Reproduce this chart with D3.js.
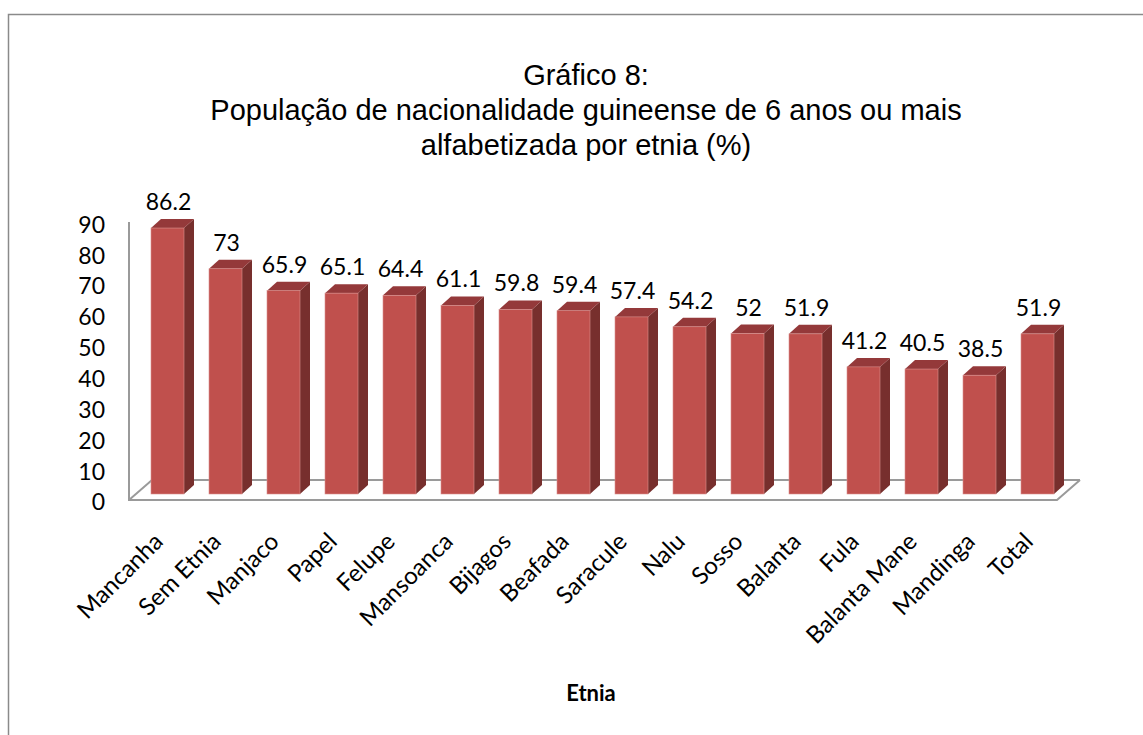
<!DOCTYPE html>
<html>
<head>
<meta charset="utf-8">
<script src="https://cdn.jsdelivr.net/npm/d3@7"></script>
<style>
  body { margin: 0; background: #fff; }
  svg { display: block; }
</style>
</head>
<body>
<div id="chart"></div>
<script>
const width = 1143;
const height = 735;

// data
const etnias = ["Mancanha", "Sem Etnia", "Manjaco", "Papel", "Felupe", "Mansoanca", "Bijagos",
  "Beafada", "Saracule", "Nalu", "Sosso", "Balanta", "Fula", "Balanta Mane", "Mandinga", "Total"];
const percent = [86.2, 73, 65.9, 65.1, 64.4, 61.1, 59.8, 59.4, 57.4, 54.2, 52, 51.9, 41.2, 40.5, 38.5, 51.9];
const yTicks = [0, 10, 20, 30, 40, 50, 60, 70, 80, 90];
const titleLines = ["Gráfico 8:", "População de nacionalidade guineense de 6 anos ou mais", "alfabetizada por etnia (%)"];

const svg = d3.select("#chart")
  .append("svg")
  .attr("width", width)
  .attr("height", height);

// outer frame (only top and left are visible in the picture)
svg.append("path")
  .attr("d", "M8.5,735 V14.5 H1143")
  .attr("fill", "none")
  .attr("stroke", "#8a8a8a")
  .attr("stroke-width", 1.5);

// title
svg.append("g")
  .selectAll("text")
  .data(titleLines)
  .join("text")
  .attr("x", 586)
  .attr("y", (d, i) => 85 + i * 35)
  .attr("text-anchor", "middle")
  .style("font-family", "'Liberation Sans', Arial, sans-serif")
  .style("font-size", "29px")
  .attr("fill", "#000")
  .text(d => d);

// scales
const x = d3.scaleBand()
  .domain(etnias)
  .range([129, 1057])
  .padding(0);

const y = d3.scaleLinear()
  .domain([0, 90])
  .range([494, 216.3]);

const barW = 33;
const dx = 10, dy = -9;      // bar depth
const fdx = 23, fdy = -20;   // floor depth
const floorY = 500;

// floor / wall lines
const floor = svg.append("g")
  .attr("fill", "none")
  .attr("stroke", "#9a9a9a")
  .attr("stroke-width", 2);

floor.append("path")
  .attr("d", `M${x.range()[0] + fdx},${floorY + fdy} H${x.range()[1] + fdx}`);
floor.append("path")
  .attr("d", `M${x.range()[0]},222 V${floorY} H${x.range()[1]} l${fdx},${fdy}`);
floor.append("path")
  .attr("d", `M${x.range()[0]},${floorY} l${fdx},${fdy}`);

// y axis labels
const yAxis = d3.axisLeft(y)
  .tickValues(yTicks)
  .tickSize(0)
  .tickPadding(0)
  .tickFormat(d3.format("d"));

svg.append("g")
  .attr("transform", "translate(105,8.5)")
  .call(yAxis)
  .call(g => g.select(".domain").remove())
  .selectAll("text")
  .style("font-family", "Lato, 'Open Sans', sans-serif")
  .style("font-size", "23px")
  .attr("fill", "#000");

// bars
const data = etnias.map((e, i) => ({ etnia: e, value: percent[i] }));
const bars = svg.append("g")
  .selectAll("g")
  .data(data)
  .join("g")
  .attr("transform", d => `translate(${x(d.etnia) + 22},0)`);

// side face
bars.append("path")
  .attr("d", d => `M${barW},${y(d.value)} l${dx},${dy} V${y(0) + dy} l${-dx},${-dy} Z`)
  .attr("fill", "#772f2d");

// top face
bars.append("path")
  .attr("d", d => `M0,${y(d.value)} l${dx},${dy} h${barW} l${-dx},${-dy} Z`)
  .attr("fill", "#94393a");

// front face
bars.append("rect")
  .attr("x", 0)
  .attr("y", d => y(d.value))
  .attr("width", barW)
  .attr("height", d => y(0) - y(d.value))
  .attr("fill", "#c0504d")
  .attr("stroke", "#d9908e")
  .attr("stroke-width", 0.6);

// value labels
bars.append("text")
  .attr("x", barW / 2 + 1)
  .attr("y", d => y(d.value) - 18)
  .attr("text-anchor", "middle")
  .style("font-family", "Lato, 'Open Sans', sans-serif")
  .style("font-size", "23px")
  .attr("fill", "#000")
  .text(d => d.value);

// category labels, rotated
svg.append("g")
  .selectAll("text")
  .data(etnias)
  .join("text")
  .attr("transform", d => `translate(${x(d) + 22 + barW / 2 - 3},543) rotate(-45)`)
  .attr("text-anchor", "end")
  .style("font-family", "Lato, 'Open Sans', sans-serif")
  .style("font-size", "24px")
  .attr("fill", "#000")
  .text(d => d);

// axis title
svg.append("text")
  .attr("x", 591)
  .attr("y", 701)
  .attr("text-anchor", "middle")
  .style("font-family", "Lato, 'Open Sans', sans-serif")
  .style("font-size", "22px")
  .style("font-weight", "bold")
  .attr("fill", "#000")
  .text("Etnia");
</script>
</body>
</html>
